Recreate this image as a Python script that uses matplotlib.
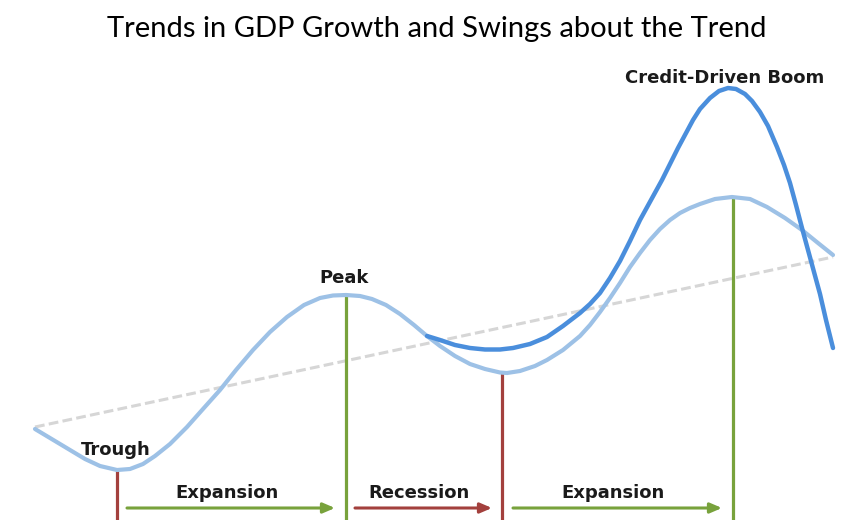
import matplotlib
matplotlib.use("Agg")
import matplotlib.pyplot as plt

# conceptual business-cycle sketch; x = time, y = image row (top = high growth)
cycle_x = [35, 50, 70, 85, 100, 117, 130, 143, 155, 170, 187, 203, 220, 236, 253, 270,
           287, 304, 320, 333, 346, 360, 372, 386, 400, 414, 427, 440, 455, 470, 485,
           500, 507, 520, 535, 547, 563, 580, 590, 600, 610, 620, 630, 640, 650, 660,
           670, 680, 690, 700, 715, 732, 750, 767, 785, 802, 818, 833]
cycle_y = [429, 438, 450, 459, 466, 470, 469, 464, 456, 444, 427, 409, 390, 370, 350, 332,
           317, 305, 298, 295.5, 295, 296, 299, 305, 314, 325, 336, 346, 356, 364, 369,
           372.5, 373, 371, 366, 360, 350, 336, 325, 312, 298, 283, 267, 253, 240, 229,
           220, 213, 208, 204, 199, 197, 199, 207, 218, 230, 243, 255]

boom_x = [427, 440, 455, 470, 485, 500, 513, 530, 547, 563, 580, 590, 600, 610, 620, 630,
          640, 651, 662, 678, 693, 700, 710, 719, 728, 736, 745, 752, 760, 768, 777,
          784, 790, 796, 802, 808, 814, 820, 826, 833]
boom_y = [336, 340, 345, 348, 349.5, 349.5, 348, 344, 337, 326, 313, 304, 293, 278, 261, 241,
          220, 200, 180, 148, 120, 109, 98, 91, 88, 89, 94, 101, 112, 126, 147,
          165, 183, 205, 228, 250, 272, 294, 320, 348]

trend_x = [35, 833]
trend_y = [427, 257]

turns_x = [117, 346, 502, 733]
turns_y = [470, 295, 373, 197]
turns_kind = ["trough", "peak", "trough", "peak"]

phases = ["Expansion", "Recession", "Expansion"]
phase_start = [127, 355, 513]
phase_end = [335, 492, 722]

light_blue = "#9DC1E6"
dark_blue = "#4A8EDC"
red = "#A3403D"
green = "#78A23C"

fig = plt.figure(figsize=(8.53, 5.20), dpi=100)
ax = fig.add_axes([0, 0, 1, 1])
ax.set_xlim(0, 853)
ax.set_ylim(520, 0)
ax.axis("off")

ax.plot(trend_x, trend_y, color="#D6D6D6", lw=2.2, dashes=(3.2, 1.4), zorder=1)

for x, y, k in zip(turns_x, turns_y, turns_kind):
    c = red if k == "trough" else green
    ax.plot([x, x], [y, 520], color=c, lw=2.3, zorder=2, solid_capstyle="butt")

ax.plot(cycle_x, cycle_y, color=light_blue, lw=3.0, zorder=3,
        solid_capstyle="round", solid_joinstyle="round")
ax.plot(boom_x, boom_y, color=dark_blue, lw=3.2, zorder=4,
        solid_capstyle="round", solid_joinstyle="round")

lab = dict(family="DejaVu Sans", fontweight="bold", fontsize=13, color="#1a1a1a",
           ha="center", va="baseline")
for name, x0, x1 in zip(phases, phase_start, phase_end):
    c = red if name == "Recession" else green
    ax.annotate("", xy=(x1, 508), xytext=(x0, 508),
                arrowprops=dict(arrowstyle="-|>,head_length=0.7,head_width=0.3",
                                color=c, lw=2.2, shrinkA=0, shrinkB=0))
    ax.text((x0 + x1) / 2 - 4, 498, name, **lab)

ax.text(116, 455, "Trough", **lab)
ax.text(344, 283, "Peak", **lab)
ax.text(725, 83, "Credit-Driven Boom", **lab)

fig.text(437 / 853, 1 - 37 / 520, "Trends in GDP Growth and Swings about the Trend",
         family="Lato", fontsize=21, ha="center", va="baseline", color="black")

fig.savefig("out.png", dpi=100)
